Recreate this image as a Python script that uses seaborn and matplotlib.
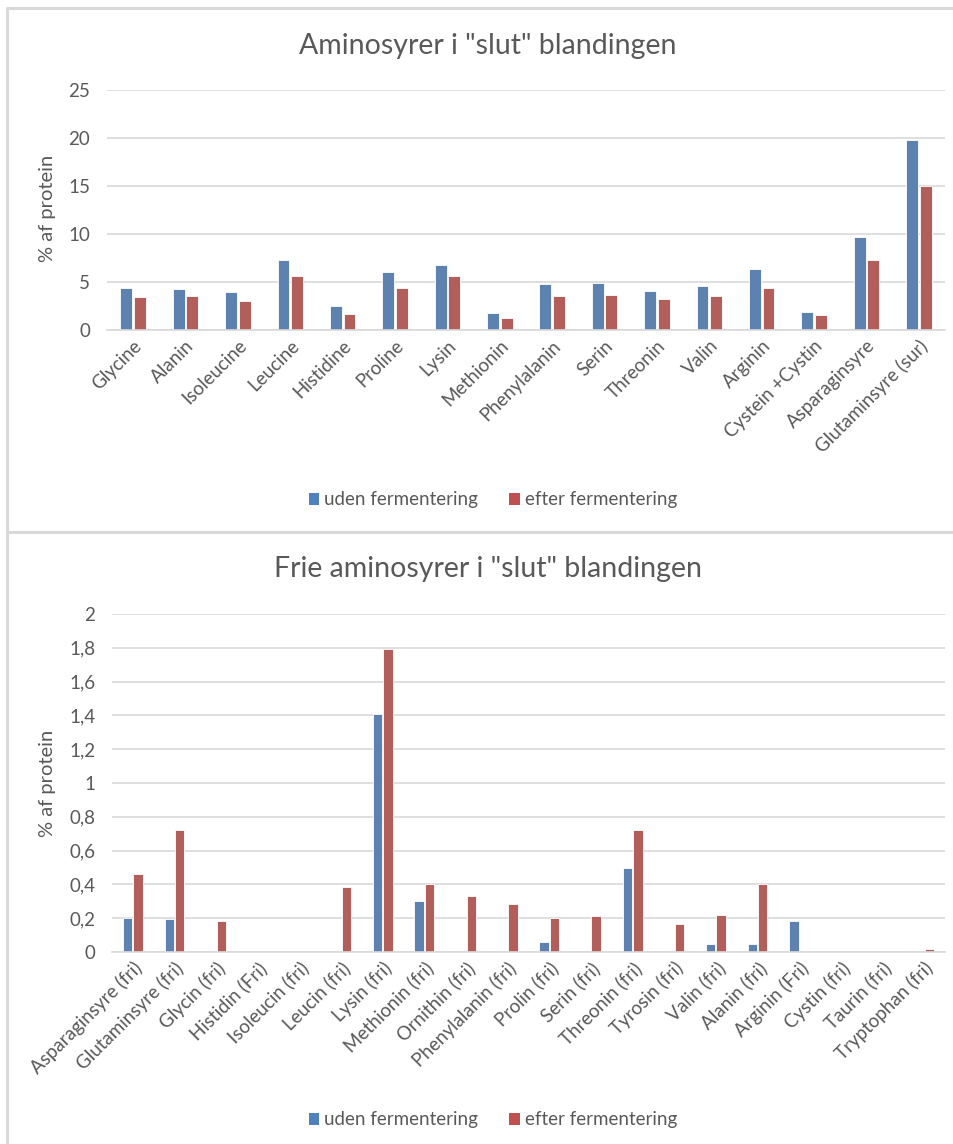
import matplotlib
matplotlib.use("Agg")
import matplotlib.pyplot as plt
from matplotlib.patches import Patch
from matplotlib.lines import Line2D
from matplotlib.ticker import FuncFormatter
import seaborn as sns
import pandas as pd

# ---- data: total amino acids (% of protein) ----
total_names = ["Glycine", "Alanin", "Isoleucine", "Leucine", "Histidine", "Proline",
               "Lysin", "Methionin", "Phenylalanin", "Serin", "Threonin", "Valin",
               "Arginin", "Cystein +Cystin", "Asparaginsyre", "Glutaminsyre (sur)"]
total_uden = [4.34, 4.24, 3.92, 7.26, 2.47, 6.04, 6.8, 1.77, 4.79, 4.9, 4.1, 4.55,
              6.32, 1.87, 9.65, 19.83]
total_efter = [3.47, 3.58, 3.02, 5.59, 1.70, 4.37, 5.59, 1.22, 3.54, 3.68, 3.23, 3.54,
               4.34, 1.53, 7.33, 15.0]

# ---- data: free amino acids (% of protein) ----
free_names = ["Asparaginsyre (fri)", "Glutaminsyre (fri)", "Glycin (fri)", "Histidin (Fri)",
              "Isoleucin (fri)", "Leucin (fri)", "Lysin (fri)", "Methionin (fri)",
              "Ornithin (fri)", "Phenylalanin (fri)", "Prolin (fri)", "Serin (fri)",
              "Threonin (fri)", "Tyrosin (fri)", "Valin (fri)", "Alanin (fri)",
              "Arginin (Fri)", "Cystin (fri)", "Taurin (fri)", "Tryptophan (fri)"]
free_uden = [0.203, 0.197, 0, 0, 0, 0, 1.406, 0.304, 0, 0, 0.059, 0, 0.495, 0, 0.047,
             0.047, 0.183, 0, 0, 0]
free_efter = [0.46, 0.72, 0.183, 0, 0, 0.387, 1.79, 0.404, 0.331, 0.286, 0.203, 0.211,
              0.72, 0.166, 0.217, 0.404, 0, 0, 0, 0.016]

series = ["uden fermentering", "efter fermentering"]
titles = ['Aminosyrer i "slut" blandingen', 'Frie aminosyrer i "slut" blandingen']
ylabel = "% af protein"
top_ticks = [0, 5, 10, 15, 20, 25]
bottom_ticks = [0, 0.2, 0.4, 0.6, 0.8, 1.0, 1.2, 1.4, 1.6, 1.8, 2.0]

BLUE = "#4F81BD"
RED = "#C0504D"
GRID = "#D9D9D9"
TXT = "#595959"

sns.set_theme(style="white")
plt.rcParams["font.family"] = ["Lato", "DejaVu Sans"]

W, H = 954, 1144
fig = plt.figure(figsize=(W / 100, H / 100), dpi=100)
fig.patch.set_facecolor("white")


def long_frame(names, a, b):
    return pd.DataFrame({
        "amino": names * 2,
        "value": list(a) + list(b),
        "serie": [series[0]] * len(names) + [series[1]] * len(names),
    })


def px_axes(left, top, right, bottom):
    return fig.add_axes([left / W, 1 - bottom / H, (right - left) / W, (bottom - top) / H])


def style_axes(ax, ticks, fmt=None):
    ax.set_ylim(ticks[0], ticks[-1])
    ax.set_yticks(ticks)
    if fmt is not None:
        ax.yaxis.set_major_formatter(FuncFormatter(fmt))
    ax.grid(axis="y", color=GRID, linewidth=1.2, zorder=0)
    ax.set_axisbelow(True)
    for s in ["top", "right", "left"]:
        ax.spines[s].set_visible(False)
    ax.spines["bottom"].set_color(GRID)
    ax.spines["bottom"].set_linewidth(1.2)
    ax.tick_params(axis="both", length=0, colors=TXT, labelsize=13.5)
    ax.tick_params(axis="y", pad=12)
    ax.tick_params(axis="x", pad=5)
    ax.set_xlabel("")
    ax.set_ylabel("")
    for lab in ax.get_xticklabels():
        lab.set_rotation(45)
        lab.set_ha("right")
        lab.set_rotation_mode("anchor")


# ---- top chart ----
ax1 = px_axes(107, 90, 945, 330)
sns.barplot(data=long_frame(total_names, total_uden, total_efter), x="amino", y="value",
            hue="serie", palette=[BLUE, RED], width=0.52, gap=0.12, legend=False,
            edgecolor="white", linewidth=0.6, ax=ax1, zorder=2)
style_axes(ax1, top_ticks)

# ---- bottom chart ----
ax2 = px_axes(112, 614, 945, 952)
sns.barplot(data=long_frame(free_names, free_uden, free_efter), x="amino", y="value",
            hue="serie", palette=[BLUE, RED], width=0.5, gap=0.1, legend=False,
            edgecolor="white", linewidth=0.6, ax=ax2, zorder=2)
style_axes(ax2, bottom_ticks, fmt=lambda v, p: ("%g" % v).replace(".", ","))

# titles, axis labels
fig.text(488 / W, 1 - 46 / H, titles[0], ha="center", va="center", fontsize=20.5, color=TXT)
fig.text(488 / W, 1 - 569 / H, titles[1], ha="center", va="center", fontsize=20.5, color=TXT)
fig.text(48 / W, 1 - 208 / H, ylabel, rotation=90, ha="center", va="center", fontsize=14.5, color=TXT)
fig.text(48 / W, 1 - 783 / H, ylabel, rotation=90, ha="center", va="center", fontsize=14.5, color=TXT)

# legends
handles = [Patch(facecolor=BLUE, edgecolor="none"), Patch(facecolor=RED, edgecolor="none")]
for yc in (500, 1120):
    fig.legend(handles, series, loc="center", bbox_to_anchor=(493 / W, 1 - yc / H),
               ncol=2, frameon=False, fontsize=13.5, handlelength=0.55, handleheight=0.55,
               handletextpad=0.3, columnspacing=1.65, labelcolor=TXT)

# panel borders
for coords in ([(7, 1144), (7, 8), (960, 8)], [(7, 532), (960, 532)]):
    xs = [c[0] / W for c in coords]
    ys = [1 - c[1] / H for c in coords]
    fig.add_artist(Line2D(xs, ys, color=GRID, linewidth=2.2, transform=fig.transFigure))

fig.savefig("out.png", dpi=100, facecolor="white")
